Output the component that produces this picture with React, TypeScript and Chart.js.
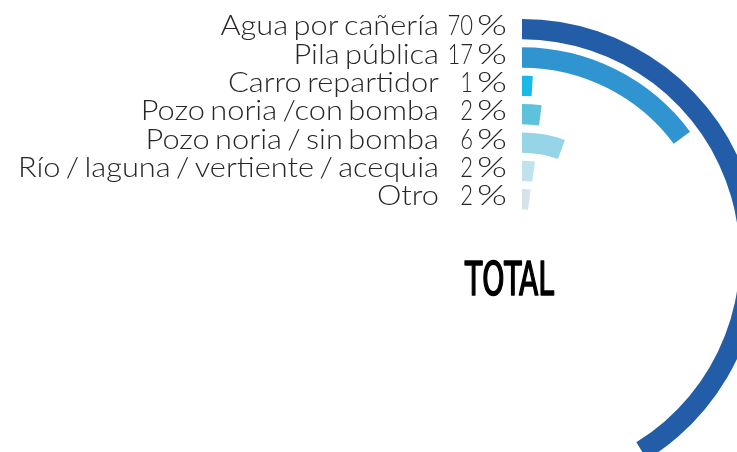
import React, { useEffect, useRef } from 'react';
import { Chart, registerables } from 'chart.js';

Chart.register(...registerables);

// ---- data ----
const categories = [
  'Agua por cañería',
  'Pila pública',
  'Carro repartidor',
  'Pozo noria /con bomba',
  'Pozo noria / sin bomba',
  'Río / laguna / vertiente / acequia',
  'Otro',
];
// percentages printed on the labels
const percentages = [70, 17, 1, 2, 6, 2, 2];
// arc length of each ring as drawn, in percent of a full circle
const arcShares = [41.2, 14.8, 0.95, 2.05, 5.6, 2.15, 2.03];
const colors = ['#235da8', '#3094d0', '#1bb9e6', '#5ec2db', '#96d4e7', '#bee3ec', '#d3e3e8'];
const centerTitle = 'TOTAL';

const RING = 20.3;
const GAP = 8;

export default function App() {
  const ref = useRef<HTMLCanvasElement>(null);

  useEffect(() => {
    document.body.style.margin = '0';
    const canvas = ref.current!;
    const datasets: any[] = [];
    categories.forEach((c, i) => {
      if (i > 0) {
        datasets.push({
          label: 'gap' + i,
          data: [1],
          backgroundColor: ['rgba(0,0,0,0)'],
          weight: GAP,
          borderWidth: 0,
          clip: false,
        });
      }
      datasets.push({
        label: c,
        data: [arcShares[i], 100 - arcShares[i]],
        backgroundColor: [colors[i], 'rgba(0,0,0,0)'],
        weight: RING,
        borderWidth: 0,
        clip: false,
        ringIndex: i,
      });
    });

    const labelPlugin = {
      id: 'ringLabels',
      afterDatasetsDraw(chart: any) {
        const ctx = chart.ctx as any;
        ctx.save();
        let cx = 0;
        let cy = 0;
        ctx.fillStyle = '#2a2627';
        ctx.font = '300 27.5px Lato, "Noto Sans", sans-serif';
        ctx.textBaseline = 'alphabetic';
        chart.data.datasets.forEach((ds: any, di: number) => {
          if (ds.ringIndex === undefined) return;
          const meta = chart.getDatasetMeta(di);
          const arc: any = meta.data[0];
          cx = arc.x;
          cy = arc.y;
          const y = cy - (arc.outerRadius + arc.innerRadius) / 2 + 6;
          const i = ds.ringIndex;
          // category name
          ctx.save();
          ctx.translate(cx - 83, y);
          ctx.scale(1.12, 1);
          ctx.wordSpacing = '-2.7px';
          ctx.textAlign = 'right';
          ctx.fillText(categories[i], 0, 0);
          ctx.restore();
          // value
          ctx.save();
          ctx.translate(cx - 49, y);
          ctx.scale(0.8, 1);
          ctx.textAlign = 'right';
          ctx.fillText(String(percentages[i]), 0, 0);
          ctx.restore();
          // percent sign
          ctx.save();
          ctx.translate(cx - 45, y);
          ctx.scale(1.4, 1);
          ctx.textAlign = 'left';
          ctx.fillText('%', 0, 0);
          ctx.restore();
        });
        // center title
        ctx.fillStyle = '#000000';
        ctx.strokeStyle = '#000000';
        ctx.lineWidth = 1.6;
        ctx.lineJoin = 'round';
        ctx.font = '45.5px "Liberation Sans Narrow", "DejaVu Sans Condensed", "Liberation Sans", sans-serif';
        ctx.textAlign = 'center';
        const w = ctx.measureText(centerTitle).width;
        const sx = 89 / w;
        ctx.translate(cx - 12.5, cy + 37.5);
        ctx.scale(sx, 1);
        ctx.fillText(centerTitle, 0, 0);
        ctx.strokeText(centerTitle, 0, 0);
        ctx.restore();
      },
    };

    const chart = new Chart(canvas, {
      type: 'doughnut',
      data: { labels: ['value', 'rest'], datasets },
      options: {
        responsive: false,
        animation: false,
        radius: 238,
        cutout: '20%',
        layout: { padding: { left: 307, right: 0, top: 62, bottom: 0 } },
        plugins: {
          legend: { display: false },
          tooltip: { enabled: false },
        },
        events: [],
      } as any,
      plugins: [labelPlugin],
    });
    return () => chart.destroy();
  }, []);

  return (
    <div style={{ position: 'fixed', left: 0, top: 0, width: 737, height: 452, background: '#fff' }}>
      <canvas ref={ref} width={737} height={452} style={{ width: 737, height: 452, display: 'block' }} />
    </div>
  );
}
